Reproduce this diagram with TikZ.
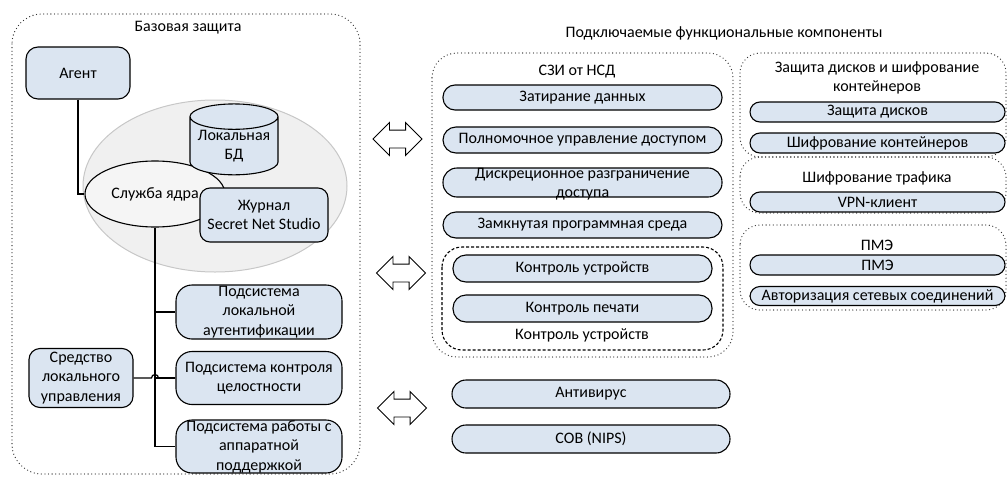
\documentclass[tikz,border=0pt]{standalone}
\usepackage{fontspec}
\setmainfont{Carlito}
\usetikzlibrary{shapes.geometric,shapes.arrows,calc}
\definecolor{boxblue}{RGB}{219,229,241}
\definecolor{zonegray}{RGB}{240,240,240}
\definecolor{kernelgray}{RGB}{245,245,245}
\begin{document}
\begin{tikzpicture}[x=1pt, y=-1pt,
  every node/.style={font=\fontsize{16}{19.5}\selectfont, inner sep=0pt, align=center},
  wh/.style 2 args={minimum width=#1pt, minimum height=#2pt},
  box/.style={draw, line width=1.1pt, fill=boxblue, rounded corners=#1},
  box/.default=12pt,
  group/.style={draw=black!80, line width=1.3pt, line cap=round, dash pattern=on 0pt off 3.6pt, rounded corners=#1},
  group/.default=28pt,
  devgroup/.style={draw, line width=1.1pt, dash pattern=on 3pt off 2pt, rounded corners=20pt},
  link/.style={line width=1.2pt},
  twoway/.style={double arrow, draw, line width=0.9pt, fill=white, inner xsep=0pt, inner ysep=8.5pt, minimum height=49pt, double arrow head extend=7.5pt}]
  \useasboundingbox (0,0) rectangle (1008,479);

  % base protection
  \draw[group=30pt] (12,14) rectangle (360,474);
  \node (basetitle) at (188,28) {Базовая защита};

  \node[box, wh={104}{52}] (agent) at (78,73) {Агент};
  \node[ellipse, draw=black!22, line width=1pt, fill=zonegray, wh={264}{172}] (zone) at (215,186) {};
  \node[ellipse, draw, line width=1.1pt, fill=kernelgray, wh={140}{66}] (kernel) at (155,194) {Служба ядра};
  \node[cylinder, shape border rotate=90, aspect=0.35, draw, line width=1.1pt, fill=boxblue, wh={88}{60}] (db) at (234,146) {Локальная\\БД};
  \node[box=10pt, wh={128}{54}] (journal) at (264,215) {Журнал\\Secret Net Studio};

  \node[box=16pt, wh={166}{54}] (auth) at (259,312) {Подсистема\\локальной\\аутентификации};
  \node[box=16pt, wh={166}{53}] (integrity) at (259,378) {Подсистема контроля\\целостности};
  \node[box=16pt, wh={166}{53}] (hardware) at (259,446.5) {Подсистема работы с\\аппаратной\\поддержкой};
  \node[box=11pt, wh={104}{59}] (localmgmt) at (81,378) {Средство\\локального\\управления};

  \draw[link] (agent.south) |- (kernel.west);
  \draw[link] (kernel.south) |- (hardware.west);
  \draw[link] (kernel.south |- auth.west) -- (auth.west);
  \draw[link] (kernel.south |- integrity.west) -- (integrity.west);
  \draw[link] (localmgmt.east) -- ($(kernel.south |- localmgmt.east)+(-3.5,0)$) arc[start angle=180, end angle=0, radius=3.5pt] -- (integrity.west);

  \node[twoway] (arrowszi) at (397.5,139) {};
  \node[twoway] (arrowdev) at (401,273) {};
  \node[twoway] (arrowav) at (402,408) {};

  % plug-in components
  \node (plugtitle) at (724,33) {Подключаемые функциональные компоненты};

  \draw[group=25pt] (432,53) rectangle (733,357);
  \node (szititle) at (577,72) {СЗИ от НСД};
  \node[box, wh={279}{25}] (wipe) at (582.5,97.5) {Затирание данных};
  \node[box=13pt, wh={279}{26}] (mac) at (582.5,140) {Полномочное управление доступом};
  \node[box=14pt, wh={279}{29}] (dac) at (582.5,182.5) {};
  \node (dactext) at (582.5,184) {Дискреционное разграничение\\доступа};
  \node[box=13pt, wh={279}{26}] (ipe) at (582.5,225) {Замкнутая программная среда};

  \draw[devgroup] (442,247) rectangle (723,350);
  \node[box=13pt, wh={259}{27}] (devctl) at (582.5,268.5) {Контроль устройств};
  \node[box=13pt, wh={259}{27}] (printctl) at (582.5,308.5) {Контроль печати};
  \node (devtitle) at (582,335) {Контроль устройств};

  \node[box=14pt, wh={278}{28}] (antivirus) at (591,394) {Антивирус};
  \node[box=14pt, wh={278}{28}] (nips) at (591,439) {СОВ (NIPS)};

  % right column
  \draw[group=20pt] (740,53) rectangle (1006,157);
  \node (disktitle) at (877,78) {Защита дисков и шифрование\\контейнеров};
  \node[box=10pt, wh={255}{20}] (disks) at (877.5,112) {Защита дисков};
  \node[box=10pt, wh={255}{20}] (containers) at (877.5,143) {Шифрование контейнеров};

  \draw[group=20pt] (740,157) rectangle (1006,213);
  \node (traftitle) at (877,178) {Шифрование трафика};
  \node[box=10pt, wh={255}{20}] (vpn) at (877.5,202) {VPN-клиент};

  \draw[group=20pt] (740,225) rectangle (1006,310);
  \node (fwtitle) at (877,245) {ПМЭ};
  \node[box=10pt, wh={255}{20}] (fw) at (877.5,265) {ПМЭ};
  \node[box=10pt, wh={255}{19}] (netauth) at (877.5,296) {Авторизация сетевых соединений};
\end{tikzpicture}
\end{document}
